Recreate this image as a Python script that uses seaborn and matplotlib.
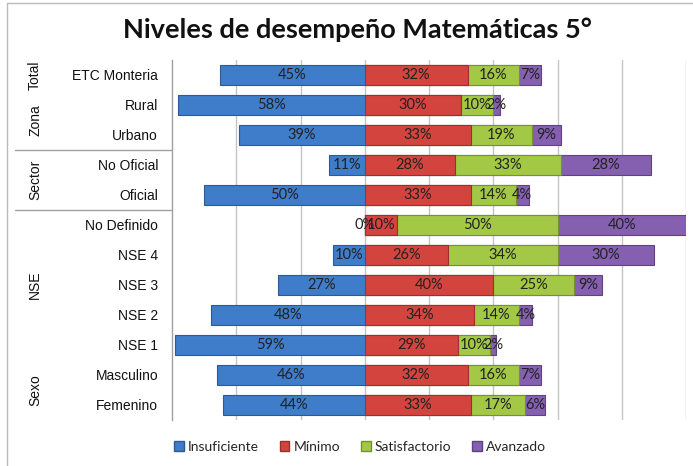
import numpy as np
import pandas as pd
import matplotlib
matplotlib.use("Agg")
import matplotlib.pyplot as plt
import seaborn as sns
from matplotlib.lines import Line2D
from matplotlib.patches import Patch

# data (percentages)
categorias = ["ETC Monteria", "Rural", "Urbano", "No Oficial", "Oficial",
              "No Definido", "NSE 4", "NSE 3", "NSE 2", "NSE 1",
              "Masculino", "Femenino"]
insuficiente = [45, 58, 39, 11, 50, 0, 10, 27, 48, 59, 46, 44]
minimo = [32, 30, 33, 28, 33, 10, 26, 40, 34, 29, 32, 33]
satisfactorio = [16, 10, 19, 33, 14, 50, 34, 25, 14, 10, 16, 17]
avanzado = [7, 2, 9, 28, 4, 40, 30, 9, 4, 2, 7, 6]

grupos = ["Total", "Zona", "Sector", "NSE", "Sexo"]
grupo_filas = [(0, 0), (1, 2), (3, 4), (5, 9), (10, 11)]
separadores = [2.5, 4.5]

niveles = ["Insuficiente", "Mínimo", "Satisfactorio", "Avanzado"]
colores = ["#3F7CC9", "#D4443F", "#A3C845", "#8560B0"]
bordes = ["#2C5A94", "#9C2F2C", "#74922F", "#5E437F"]

df = pd.DataFrame({
    "cat": categorias,
    "ins": insuficiente,
    "min": minimo,
    "sat": satisfactorio,
    "av": avanzado,
})
df["neg_ins"] = -df["ins"]
df["c_min"] = df["min"]
df["c_sat"] = df["min"] + df["sat"]
df["c_av"] = df["min"] + df["sat"] + df["av"]

sns.set_style("white")
fig = plt.figure(figsize=(6.93, 4.66), dpi=100)
ax = fig.add_axes([172 / 693, 46 / 466, 514 / 693, 360 / 466])

# gridlines behind the bars
for g in range(-40, 101, 20):
    ax.axvline(g, color="#C4C4C4", lw=1, zorder=0)

bw = 0.65
# right side stacked by overlaying cumulative totals, left side is negative
for col, i in [("c_av", 3), ("c_sat", 2), ("c_min", 1), ("neg_ins", 0)]:
    sns.barplot(data=df, x=col, y="cat", order=categorias, orient="h",
                color=colores[i], saturation=1, width=bw, ax=ax,
                edgecolor=bordes[i], linewidth=0.8, zorder=2)

# value labels at the middle of each segment
lbl_font = dict(family=["Lato", "DejaVu Sans"], fontsize=10.5, color="#222222",
                ha="center", va="center", zorder=5)
for k in range(len(categorias)):
    ax.text(-insuficiente[k] / 2, k, f"{insuficiente[k]}%", **lbl_font)
    ax.text(minimo[k] / 2, k, f"{minimo[k]}%", **lbl_font)
    ax.text(minimo[k] + satisfactorio[k] / 2, k, f"{satisfactorio[k]}%", **lbl_font)
    ax.text(minimo[k] + satisfactorio[k] + avanzado[k] / 2, k, f"{avanzado[k]}%", **lbl_font)

ax.set_xlim(-60, 100)
ax.set_ylim(11.5, -0.5)
ax.set_xlabel("")
ax.set_ylabel("")
ax.set_xticks([])
ax.tick_params(axis="y", length=0, pad=10)
for t in ax.get_yticklabels():
    t.set_fontfamily(["Liberation Sans", "DejaVu Sans"])
    t.set_fontsize(10)
    t.set_color("#111111")
for s in ["top", "right", "bottom"]:
    ax.spines[s].set_visible(False)
ax.spines["left"].set_color("#A0A0A0")
ax.spines["left"].set_linewidth(1)

# group labels and separators on the left
tr = ax.get_yaxis_transform()
x_grp = (35 - 172) / 514
for nombre, (a, b) in zip(grupos, grupo_filas):
    ax.text(x_grp, (a + b) / 2, nombre, transform=tr, rotation=90,
            ha="center", va="center", fontsize=10,
            family=["Liberation Sans", "DejaVu Sans"], color="#111111")
for y in separadores:
    ax.plot([(15 - 172) / 514, 0], [y, y], transform=tr, color="#A0A0A0",
            lw=1, clip_on=False)

fig.suptitle("Niveles de desempeño Matemáticas 5°", x=357 / 693, y=1 - 30 / 466,
             va="center", fontsize=19.5, fontweight="bold",
             family=["Lato", "DejaVu Sans"], color="#111111")

handles = [Patch(facecolor=colores[i], edgecolor=bordes[i], label=niveles[i])
           for i in range(4)]
fig.legend(handles=handles, loc="center", bbox_to_anchor=(360 / 693, 1 - 447 / 466),
           ncol=4, frameon=False, handlelength=0.7, handleheight=0.7,
           handletextpad=0.3, columnspacing=1.5,
           prop=dict(family=["Lato", "DejaVu Sans"], size=10))

# chart border (top and left visible in the crop)
fig.add_artist(Line2D([7 / 693, 1], [1 - 3 / 466, 1 - 3 / 466], color="#BBBBBB", lw=1))
fig.add_artist(Line2D([7 / 693, 7 / 693], [0, 1 - 3 / 466], color="#BBBBBB", lw=1))

fig.savefig("out.png", dpi=100)
